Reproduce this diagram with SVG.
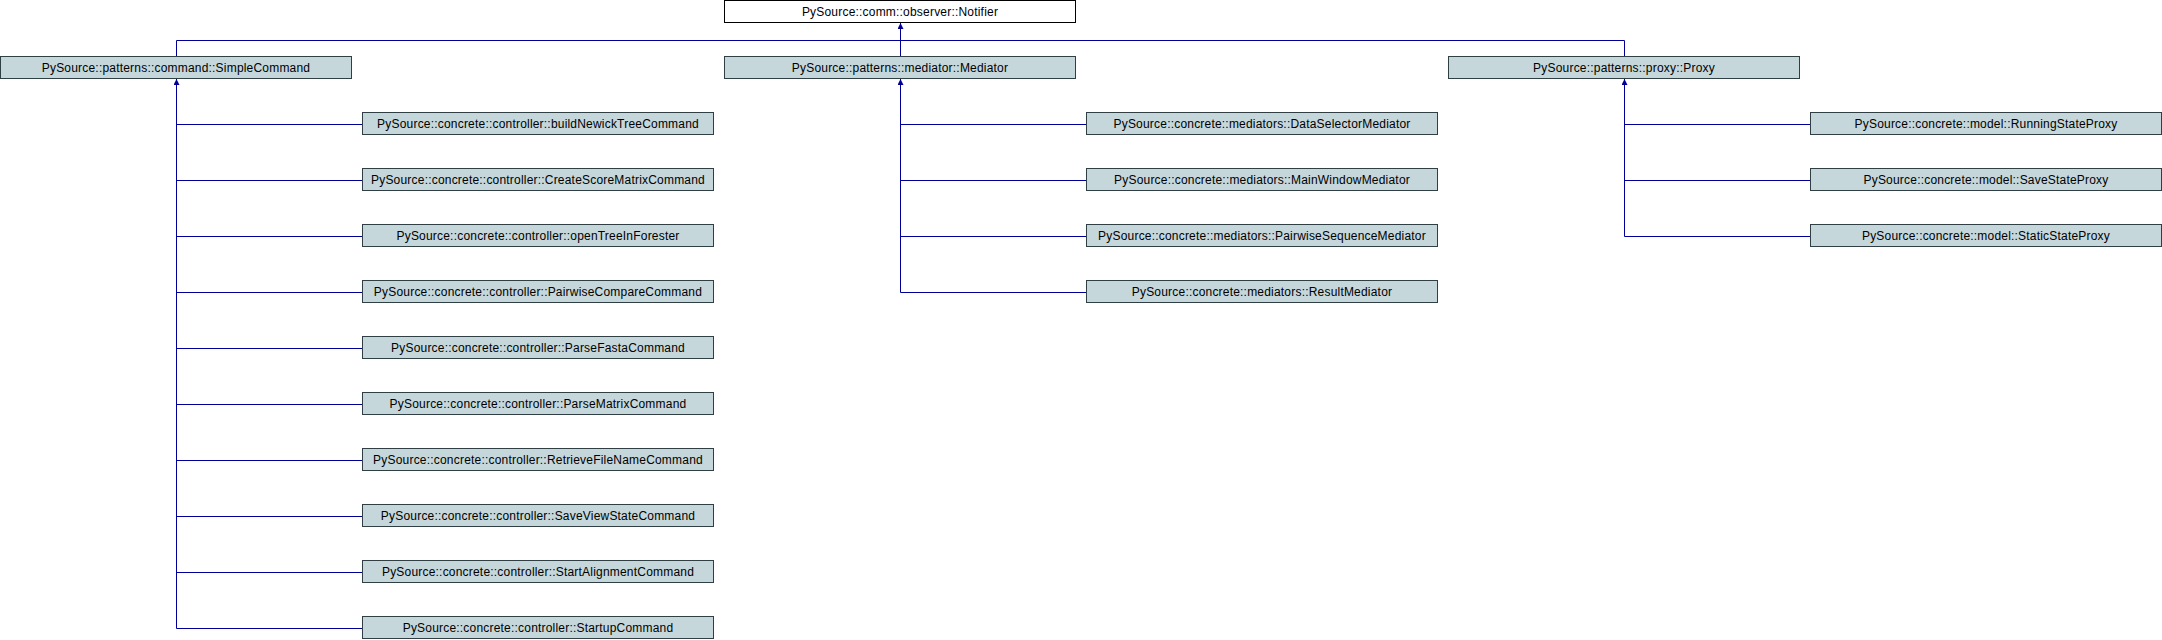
<svg xmlns="http://www.w3.org/2000/svg" width="2162" height="640" viewBox="0 0 2162 640">
<style>
rect.n{fill:#c5d7db;stroke:#2f3f43;stroke-width:1}
rect.r{fill:#ffffff;stroke:#000000;stroke-width:1}
text{font-family:"Liberation Sans",Arial,sans-serif;font-size:12px;letter-spacing:0.2px;fill:#000;text-anchor:middle}
.c path{fill:none;stroke:#000099;stroke-width:1}
</style>
<defs>
<marker id="a" markerUnits="userSpaceOnUse" markerWidth="7" markerHeight="7" refX="6" refY="3" orient="auto"><path d="M0,0 L6,3 L0,6 z" fill="#000099"/></marker>
</defs>
<g class="c" id="connectors">
<path d="M900.5,40.5 V23" marker-end="url(#a)"/>
<path d="M176.5,56 V40.5 H1624.5 V56"/>
<path d="M900.5,40.5 V56"/>
<path d="M176.5,628.5 V79" marker-end="url(#a)"/>
<path d="M176.5,124.5 H362 M176.5,180.5 H362 M176.5,236.5 H362 M176.5,292.5 H362 M176.5,348.5 H362 M176.5,404.5 H362 M176.5,460.5 H362 M176.5,516.5 H362 M176.5,572.5 H362 M176.5,628.5 H362"/>
<path d="M900.5,292.5 V79" marker-end="url(#a)"/>
<path d="M900.5,124.5 H1086 M900.5,180.5 H1086 M900.5,236.5 H1086 M900.5,292.5 H1086"/>
<path d="M1624.5,236.5 V79" marker-end="url(#a)"/>
<path d="M1624.5,124.5 H1810 M1624.5,180.5 H1810 M1624.5,236.5 H1810"/>
</g>
<g id="notifier"><rect class="r" x="724.5" y="0.5" width="351" height="22"/><text x="900" y="16">PySource::comm::observer::Notifier</text></g>
<g id="simplecommand"><rect class="n" x="0.5" y="56.5" width="351" height="22"/><text x="176" y="72">PySource::patterns::command::SimpleCommand</text></g>
<g id="mediator"><rect class="n" x="724.5" y="56.5" width="351" height="22"/><text x="900" y="72">PySource::patterns::mediator::Mediator</text></g>
<g id="proxy"><rect class="n" x="1448.5" y="56.5" width="351" height="22"/><text x="1624" y="72">PySource::patterns::proxy::Proxy</text></g>
<g id="buildNewickTreeCommand"><rect class="n" x="362.5" y="112.5" width="351" height="22"/><text x="538" y="128">PySource::concrete::controller::buildNewickTreeCommand</text></g>
<g id="CreateScoreMatrixCommand"><rect class="n" x="362.5" y="168.5" width="351" height="22"/><text x="538" y="184">PySource::concrete::controller::CreateScoreMatrixCommand</text></g>
<g id="openTreeInForester"><rect class="n" x="362.5" y="224.5" width="351" height="22"/><text x="538" y="240">PySource::concrete::controller::openTreeInForester</text></g>
<g id="PairwiseCompareCommand"><rect class="n" x="362.5" y="280.5" width="351" height="22"/><text x="538" y="296">PySource::concrete::controller::PairwiseCompareCommand</text></g>
<g id="ParseFastaCommand"><rect class="n" x="362.5" y="336.5" width="351" height="22"/><text x="538" y="352">PySource::concrete::controller::ParseFastaCommand</text></g>
<g id="ParseMatrixCommand"><rect class="n" x="362.5" y="392.5" width="351" height="22"/><text x="538" y="408">PySource::concrete::controller::ParseMatrixCommand</text></g>
<g id="RetrieveFileNameCommand"><rect class="n" x="362.5" y="448.5" width="351" height="22"/><text x="538" y="464">PySource::concrete::controller::RetrieveFileNameCommand</text></g>
<g id="SaveViewStateCommand"><rect class="n" x="362.5" y="504.5" width="351" height="22"/><text x="538" y="520">PySource::concrete::controller::SaveViewStateCommand</text></g>
<g id="StartAlignmentCommand"><rect class="n" x="362.5" y="560.5" width="351" height="22"/><text x="538" y="576">PySource::concrete::controller::StartAlignmentCommand</text></g>
<g id="StartupCommand"><rect class="n" x="362.5" y="616.5" width="351" height="22"/><text x="538" y="632">PySource::concrete::controller::StartupCommand</text></g>
<g id="DataSelectorMediator"><rect class="n" x="1086.5" y="112.5" width="351" height="22"/><text x="1262" y="128">PySource::concrete::mediators::DataSelectorMediator</text></g>
<g id="MainWindowMediator"><rect class="n" x="1086.5" y="168.5" width="351" height="22"/><text x="1262" y="184">PySource::concrete::mediators::MainWindowMediator</text></g>
<g id="PairwiseSequenceMediator"><rect class="n" x="1086.5" y="224.5" width="351" height="22"/><text x="1262" y="240">PySource::concrete::mediators::PairwiseSequenceMediator</text></g>
<g id="ResultMediator"><rect class="n" x="1086.5" y="280.5" width="351" height="22"/><text x="1262" y="296">PySource::concrete::mediators::ResultMediator</text></g>
<g id="RunningStateProxy"><rect class="n" x="1810.5" y="112.5" width="351" height="22"/><text x="1986" y="128">PySource::concrete::model::RunningStateProxy</text></g>
<g id="SaveStateProxy"><rect class="n" x="1810.5" y="168.5" width="351" height="22"/><text x="1986" y="184">PySource::concrete::model::SaveStateProxy</text></g>
<g id="StaticStateProxy"><rect class="n" x="1810.5" y="224.5" width="351" height="22"/><text x="1986" y="240">PySource::concrete::model::StaticStateProxy</text></g>
</svg>
